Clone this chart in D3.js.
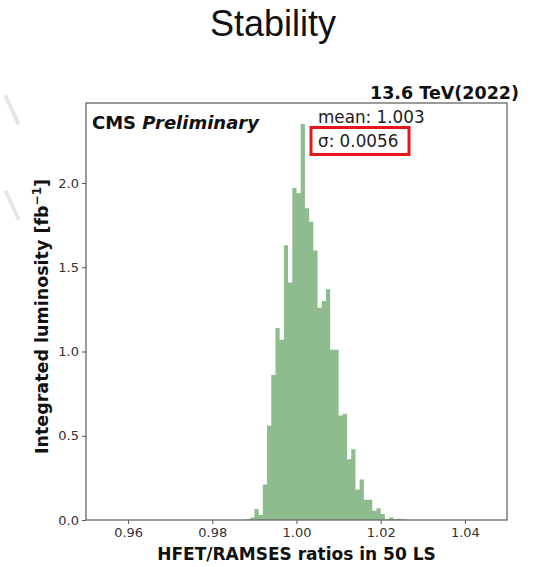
<!DOCTYPE html>
<html>
<head>
<meta charset="utf-8">
<script src="https://cdn.jsdelivr.net/npm/d3@7/dist/d3.min.js"></script>
<style>
  html, body { margin: 0; padding: 0; background: #fff; }
  svg { display: block; }
  text { font-family: "DejaVu Sans", sans-serif; }
</style>
</head>
<body>
<svg id="chart" width="533" height="567"></svg>
<script>
// Lower edge of each histogram bin (HFET/RAMSES ratio), bin width 0.001
const binEdges = [0.988, 0.989, 0.990, 0.991, 0.992, 0.993, 0.994, 0.995, 0.996, 0.997,
                  0.998, 0.999, 1.000, 1.001, 1.002, 1.003, 1.004, 1.005, 1.006, 1.007,
                  1.008, 1.009, 1.010, 1.011, 1.012, 1.013, 1.014, 1.015, 1.016, 1.017,
                  1.018, 1.019, 1.020, 1.021, 1.022, 1.023, 1.024, 1.025];
// Integrated luminosity per bin [fb^-1]
const lumiValues = [0.004, 0.015, 0.065, 0.030, 0.21, 0.56, 0.86, 1.14, 1.07, 1.63,
                    1.41, 1.97, 1.94, 2.35, 1.85, 1.77, 1.60, 1.26, 1.30, 1.37,
                    1.01, 1.01, 0.62, 0.63, 0.36, 0.42, 0.18, 0.24, 0.12, 0.12,
                    0.055, 0.07, 0.035, 0.004, 0.015, 0.004, 0.008, 0.003];
const binWidth = 0.001;
const xTicks = [0.96, 0.98, 1.00, 1.02, 1.04];
const yTicks = [0.0, 0.5, 1.0, 1.5, 2.0];
const statLabels = ["mean: 1.003", "σ: 0.0056"];

const svg = d3.select("#chart");
const margin = { left: 86, right: 26, top: 103, bottom: 47 };
const W = 533, H = 567;

const x = d3.scaleLinear().domain([0.95, 1.05]).range([margin.left, W - margin.right]);
const y = d3.scaleLinear().domain([0, 2.475]).range([H - margin.bottom, margin.top]);

// faint slide decoration strokes on the left edge
const deco = [[[6, 97], [18, 123]], [[6, 192], [18, 218]]];
svg.selectAll("line.deco").data(deco).join("line")
  .attr("class", "deco")
  .attr("x1", d => d[0][0]).attr("y1", d => d[0][1])
  .attr("x2", d => d[1][0]).attr("y2", d => d[1][1])
  .attr("stroke", "#e6e6e6").attr("stroke-width", 4).attr("stroke-linecap", "round");

// page title
svg.append("text")
  .attr("x", 273).attr("y", 36)
  .attr("text-anchor", "middle")
  .style("font-family", "'Liberation Sans', Arial, sans-serif")
  .style("font-size", "36px")
  .attr("fill", "#111")
  .text("Stability");

// histogram drawn as one filled step outline (no seams between bins)
const bins = binEdges.map((e, i) => ({ x0: e, v: lumiValues[i] }));
const last = bins[bins.length - 1];
const steps = bins.concat([{ x0: last.x0 + binWidth, v: last.v }]);
const area = d3.area()
  .x(d => x(d.x0))
  .y0(y(0))
  .y1(d => y(d.v))
  .curve(d3.curveStepAfter);
svg.append("path")
  .datum(steps)
  .attr("d", area)
  .attr("fill", "#8fbc8f");

// axes
const xAxis = d3.axisBottom(x).tickValues(xTicks).tickFormat(d3.format(".2f")).tickSize(4).tickPadding(4);
const yAxis = d3.axisLeft(y).tickValues(yTicks).tickFormat(d3.format(".1f")).tickSize(4).tickPadding(3);

const gx = svg.append("g").attr("transform", `translate(0,${y(0)})`).call(xAxis);
const gy = svg.append("g").attr("transform", `translate(${margin.left},0)`).call(yAxis);
[gx, gy].forEach(g => {
  g.select(".domain").remove();
  g.selectAll(".tick line").attr("stroke", "#555");
  g.selectAll(".tick text").attr("fill", "#333")
    .style("font-family", "'DejaVu Sans', sans-serif").style("font-size", "13px");
});

// plot frame
svg.append("rect")
  .attr("x", margin.left).attr("y", margin.top)
  .attr("width", W - margin.right - margin.left)
  .attr("height", H - margin.bottom - margin.top)
  .attr("fill", "none").attr("stroke", "#666").attr("stroke-width", 1.3);

// energy / year label
svg.append("text")
  .attr("x", W - 14).attr("y", 99)
  .attr("text-anchor", "end")
  .style("font-weight", "bold").style("font-size", "17.5px")
  .attr("fill", "#111")
  .text("13.6 TeV(2022)");

// CMS Preliminary
const cms = svg.append("text")
  .attr("x", 92).attr("y", 129)
  .style("font-weight", "bold").style("font-size", "18px")
  .attr("fill", "#111");
cms.append("tspan").text("CMS ");
cms.append("tspan").style("font-style", "italic").text("Preliminary");

// statistics
svg.selectAll("text.stat").data(statLabels).join("text")
  .attr("class", "stat")
  .attr("x", 318).attr("y", (d, i) => 123 + i * 24)
  .style("font-size", "16.8px")
  .attr("fill", "#222")
  .text(d => d);

// highlight box around sigma
svg.append("rect")
  .attr("x", 311).attr("y", 127.5)
  .attr("width", 98).attr("height", 27)
  .attr("fill", "none").attr("stroke", "#e8141c").attr("stroke-width", 3);

// axis titles
svg.append("text")
  .attr("x", x(1.0)).attr("y", 560)
  .attr("text-anchor", "middle")
  .style("font-weight", "bold").style("font-size", "17px")
  .attr("fill", "#111")
  .text("HFET/RAMSES ratios in 50 LS");

const yl = svg.append("text")
  .attr("transform", `translate(48,${(y(0) + margin.top) / 2 + 5}) rotate(-90)`)
  .attr("text-anchor", "middle")
  .style("font-weight", "bold").style("font-size", "17.5px")
  .attr("fill", "#111");
yl.append("tspan").text("Integrated luminosity [fb");
yl.append("tspan").attr("dy", -7).style("font-size", "12px").text("−1");
yl.append("tspan").attr("dy", 7).text("]");
</script>
</body>
</html>
